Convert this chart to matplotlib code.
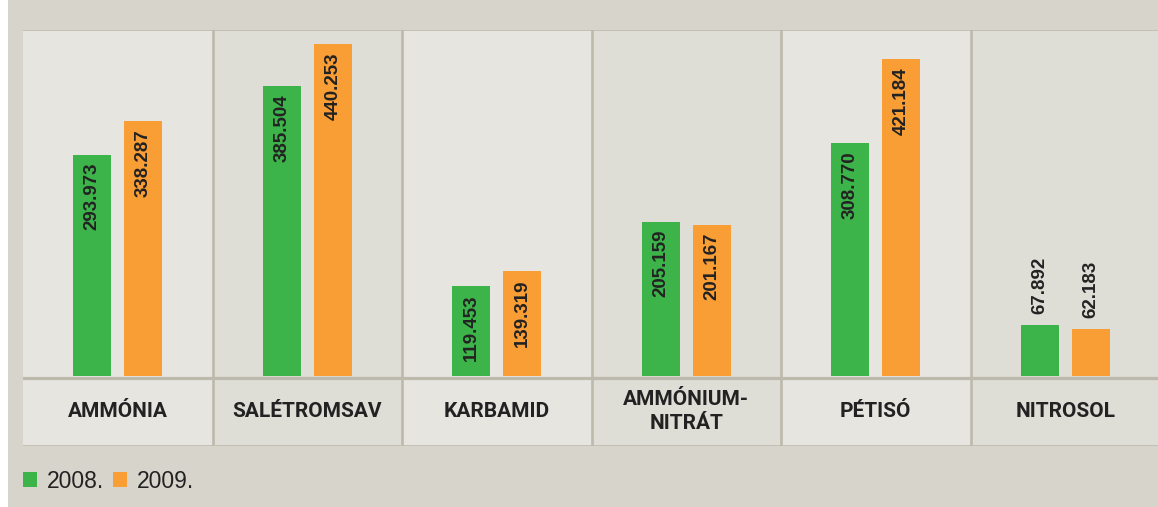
import matplotlib.pyplot as plt
from matplotlib.patches import Patch, Rectangle

categories = ["AMMÓNIA", "SALÉTROMSAV", "KARBAMID", "AMMÓNIUM-\nNITRÁT", "PÉTISÓ", "NITROSOL"]
values_2008 = [293.973, 385.504, 119.453, 205.159, 308.770, 67.892]
values_2009 = [338.287, 440.253, 139.319, 201.167, 421.184, 62.183]
years = ["2008.", "2009."]

green = "#3cb44a"
orange = "#f99e35"
bg = "#d7d4cc"
panel_light = "#e6e5e0"
panel_dark = "#deddd6"
line_col = "#bdb9ac"
text_col = "#222222"

W, H = 1158, 507
fig = plt.figure(figsize=(W / 100, H / 100), dpi=100)
fig.patch.set_facecolor(bg)
# white strip on the far left
fig.patches.append(Rectangle((0, 0), 8 / W, 1, transform=fig.transFigure,
                             facecolor="white", edgecolor="none", zorder=0))

ax = fig.add_axes([23 / W, (H - 446) / H, 6 * 189.5 / W, 416 / H])
ax.set_xlim(-0.5, 5.5)
ax.set_ylim(-93, 459.5)
ax.axis("off")

x = list(range(len(categories)))

# panel backgrounds
for i in x:
    ax.axvspan(i - 0.5, i + 0.5, color=panel_light if i % 2 == 0 else panel_dark, zorder=0, lw=0)
for i in x[:-1]:
    ax.axvline(i + 0.5, color=line_col, lw=1.9, zorder=1)
ax.axhline(-2.3, color=line_col, lw=2.3, zorder=1)
ax.axhline(459.5, color=line_col, lw=1.2, zorder=1)
ax.axhline(-93, color=line_col, lw=1.2, zorder=1)

off = 0.135
w = 0.2
b1 = ax.bar([i - off for i in x], values_2008, width=w, color=green, zorder=2)
b2 = ax.bar([i + off for i in x], values_2009, width=w, color=orange, zorder=2)

lab_font = dict(family=["Liberation Sans", "DejaVu Sans"], weight="bold", size=13.5, color=text_col)
for bars, vals in ((b1, values_2008), (b2, values_2009)):
    for r, v in zip(bars, vals):
        cx = r.get_x() + r.get_width() / 2
        if v > 100:
            ax.annotate(f"{v:.3f}", (cx, v), xytext=(0, -6), textcoords="offset points",
                        rotation=90, ha="center", va="top", zorder=3, **lab_font)
        else:
            ax.annotate(f"{v:.3f}", (cx, v), xytext=(0, 8), textcoords="offset points",
                        rotation=90, ha="center", va="bottom", zorder=3, **lab_font)

for i, c in zip(x, categories):
    ax.text(i, -47, c, ha="center", va="center", linespacing=1.3,
            family=["Roboto", "DejaVu Sans"], weight="bold",
            size=15, color=text_col, zorder=3)

handles = [Patch(facecolor=green), Patch(facecolor=orange)]
fig.legend(handles, years, loc="center left", bbox_to_anchor=(23 / W, 1 - 481 / H),
           ncol=2, frameon=False, handlelength=0.62, handleheight=0.62,
           handletextpad=0.4, columnspacing=0.42, borderaxespad=0, borderpad=0,
           prop=dict(family=["Liberation Sans", "DejaVu Sans"], size=16.5),
           labelcolor=text_col)

fig.savefig("out.png", dpi=100, facecolor=bg)
